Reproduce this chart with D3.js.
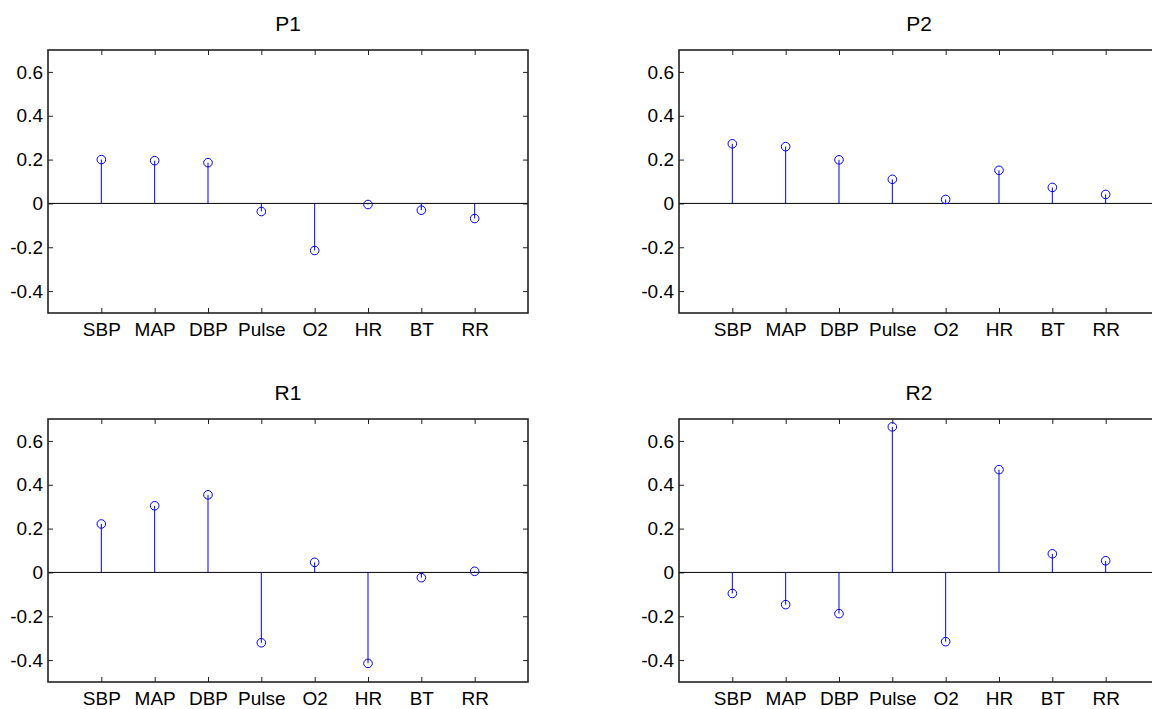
<!DOCTYPE html>
<html>
<head>
<meta charset="utf-8">
<script src="https://cdn.jsdelivr.net/npm/d3@7"></script>
<style>
  body { margin: 0; background: #fff; }
  svg text { font-family: "Liberation Sans", Arial, Helvetica, sans-serif; fill: #000; }
</style>
</head>
<body>
<div id="chart"></div>
<script>
const categories = ["SBP", "MAP", "DBP", "Pulse", "O2", "HR", "BT", "RR"];
const yTicks = [-0.4, -0.2, 0, 0.2, 0.4, 0.6];

const p1 = [0.200, 0.195, 0.186, -0.037, -0.215, -0.005, -0.031, -0.069];
const p2 = [0.272, 0.259, 0.199, 0.110, 0.018, 0.151, 0.073, 0.041];
const r1 = [0.221, 0.304, 0.354, -0.321, 0.046, -0.415, -0.024, 0.005];
const r2 = [-0.096, -0.147, -0.188, 0.664, -0.316, 0.469, 0.085, 0.053];

const panels = [
  { title: "P1", values: p1, left: 48, top: 50 },
  { title: "P2", values: p2, left: 679, top: 50 },
  { title: "R1", values: r1, left: 48, top: 419 },
  { title: "R2", values: r2, left: 679, top: 419 }
];

const width = 1152, height = 709;
const pw = 480, ph = 263;

const svg = d3.select("#chart").append("svg")
  .attr("width", width)
  .attr("height", height);

const x = d3.scaleLinear().domain([0, categories.length + 1]).range([0, pw]);
const y = d3.scaleLinear().domain([-0.5, 0.7]).range([ph, 0]);

panels.forEach(p => {
  const g = svg.append("g").attr("transform", `translate(${p.left},${p.top})`);
  const idx = d3.range(1, categories.length + 1);

  // ticks on all four sides, pointing inwards
  g.append("g")
    .call(d3.axisLeft(y).tickValues(yTicks).tickSize(-5).tickPadding(5).tickFormat(d => String(d)))
    .call(a => a.select(".domain").remove())
    .call(a => a.selectAll("text").attr("font-size", 19).attr("fill", "#000"));
  g.append("g").attr("transform", `translate(${pw},0)`)
    .call(d3.axisRight(y).tickValues(yTicks).tickSize(-5).tickFormat(""))
    .call(a => a.select(".domain").remove());
  g.append("g").attr("transform", `translate(0,${ph})`)
    .call(d3.axisBottom(x).tickValues(idx).tickSize(-5).tickPadding(10).tickFormat(i => categories[i - 1]))
    .call(a => a.select(".domain").remove())
    .call(a => a.selectAll("text").attr("font-size", 19).attr("fill", "#000"));
  g.append("g")
    .call(d3.axisTop(x).tickValues(idx).tickSize(-5).tickFormat(""))
    .call(a => a.select(".domain").remove());

  g.selectAll(".tick line").attr("stroke", "#222");

  // zero baseline
  g.append("line")
    .attr("x1", 0).attr("x2", pw)
    .attr("y1", y(0)).attr("y2", y(0))
    .attr("stroke", "#000").attr("stroke-width", 1);

  // stems
  g.selectAll(".stem").data(p.values).enter().append("line")
    .attr("class", "stem")
    .attr("x1", (d, i) => x(i + 1)).attr("x2", (d, i) => x(i + 1))
    .attr("y1", y(0)).attr("y2", d => y(d))
    .attr("stroke", "#0000ff").attr("stroke-width", 1);

  g.selectAll(".mark").data(p.values).enter().append("circle")
    .attr("class", "mark")
    .attr("cx", (d, i) => x(i + 1))
    .attr("cy", d => y(d))
    .attr("r", 4.3)
    .attr("fill", "none")
    .attr("stroke", "#0000ff").attr("stroke-width", 1);

  // box
  g.append("rect")
    .attr("width", pw).attr("height", ph)
    .attr("fill", "none")
    .attr("stroke", "#222").attr("stroke-width", 1.6);

  g.append("text")
    .attr("x", pw / 2).attr("y", -19)
    .attr("text-anchor", "middle")
    .attr("font-size", 21)
    .text(p.title);
});
</script>
</body>
</html>
